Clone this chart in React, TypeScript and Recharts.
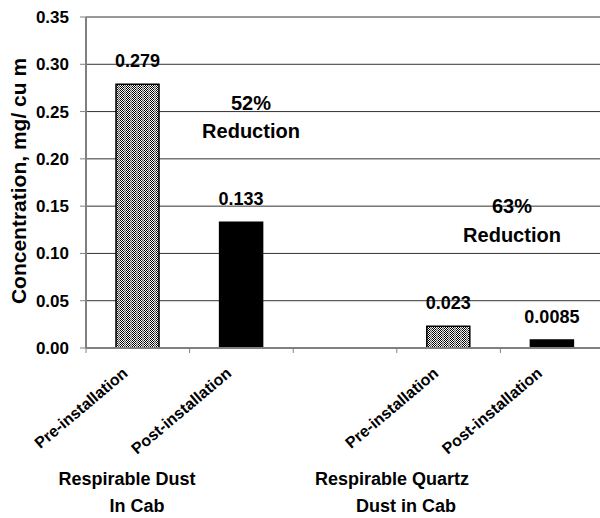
import { BarChart, Bar, XAxis, YAxis, CartesianGrid, Cell, LabelList } from "recharts";

const categories = ["pre-dust", "post-dust", "gap", "pre-quartz", "post-quartz"];
const tickLabels = ["Pre-installation", "Post-installation", "", "Pre-installation", "Post-installation"];
const concentration = [0.279, 0.133, null, 0.023, 0.0085];
const barKinds = ["pre", "post", null, "pre", "post"];
const yTicks = [0, 0.05, 0.1, 0.15, 0.2, 0.25, 0.3, 0.35];

const data = categories.map((key, i) => ({
  key,
  label: tickLabels[i],
  value: concentration[i],
  kind: barKinds[i],
}));

const FONT = "'Liberation Sans', Arial, sans-serif";
const AXIS_GRAY = "#808080";

const RotatedTick = (props: any) => {
  const { x, y, payload, index } = props;
  const half = payload && payload.offset ? payload.offset : 51.8;
  const label = tickLabels[index] || "";
  const lx = x - 9;
  const ly = y + 27;
  return (
    <g>
      <line x1={x - half} y1={y} x2={x - half} y2={y + 5} stroke={AXIS_GRAY} strokeWidth={1} />
      {label && (
        <text
          x={lx}
          y={ly}
          transform={`rotate(-40, ${lx}, ${ly})`}
          textAnchor="end"
          fontSize={16}
          fontWeight="bold"
          fill="#000"
          fontFamily={FONT}
        >
          {label}
        </text>
      )}
    </g>
  );
};

const textStyle = { fontFamily: FONT, fontWeight: "bold" as const, fill: "#000" };

// 1px checker with lighter stripe every few columns, like the original fill
const checker: { x: number; y: number; fill: string }[] = [];
for (let c = 0; c < 6; c++) {
  for (let r = 0; r < 2; r++) {
    const on = (c + r) % 2 === 0;
    const stripe = c >= 4;
    checker.push({ x: c, y: r, fill: on ? (stripe ? "#555" : "#000") : stripe ? "#ddd" : "#fff" });
  }
}

export default function App() {
  return (
    <div style={{ position: "absolute", left: 0, top: 0, width: 600, height: 518, overflow: "hidden", background: "#fff" }}>
      <BarChart
        width={610}
        height={518}
        data={data}
        margin={{ top: 17, right: 6, left: 0, bottom: 0 }}
        style={{ fontFamily: FONT }}
      >
        <defs>
          <pattern id="stipple" width="6" height="2" patternUnits="userSpaceOnUse">
            {checker.map((p, i) => (
              <rect key={i} x={p.x} y={p.y} width="1" height="1" fill={p.fill} />
            ))}
          </pattern>
        </defs>
        <CartesianGrid vertical={false} stroke="#333" strokeWidth={1} />
        <XAxis
          dataKey="key"
          height={170}
          interval={0}
          tickSize={0}
          tickMargin={0}
          tickLine={false}
          axisLine={{ stroke: AXIS_GRAY, strokeWidth: 2 }}
          tick={<RotatedTick />}
        />
        <YAxis
          width={86}
          domain={[0, 0.35]}
          ticks={yTicks}
          interval={0}
          tickFormatter={(v: number) => v.toFixed(2)}
          tickSize={6}
          tickMargin={11}
          tickLine={{ stroke: AXIS_GRAY }}
          axisLine={{ stroke: AXIS_GRAY, strokeWidth: 2 }}
          tick={{ fontSize: 17, fontWeight: "bold", fill: "#000", fontFamily: FONT }}
        />
        <Bar dataKey="value" barSize={43} stroke="#000" strokeWidth={1.5} isAnimationActive={false}>
          {data.map((d) => (
            <Cell key={d.key} fill={d.kind === "pre" ? "url(#stipple)" : "#000"} />
          ))}
          <LabelList
            dataKey="value"
            position="top"
            offset={17}
            formatter={(v: any) => (v == null ? "" : String(v))}
            style={{ fontSize: 18, fontWeight: "bold", fill: "#000", fontFamily: FONT }}
          />
        </Bar>
        <text
          x={18}
          y={181}
          transform="rotate(-90, 18, 181)"
          textAnchor="middle"
          dominantBaseline="central"
          fontSize={21}
          {...textStyle}
        >
          Concentration, mg/ cu m
        </text>
        <text x={251} y={110} textAnchor="middle" fontSize={20} {...textStyle}>52%</text>
        <text x={251} y={138} textAnchor="middle" fontSize={20} {...textStyle}>Reduction</text>
        <text x={512} y={213} textAnchor="middle" fontSize={20} {...textStyle}>63%</text>
        <text x={512} y={242} textAnchor="middle" fontSize={20} {...textStyle}>Reduction</text>
        <text x={127} y={485} textAnchor="middle" fontSize={18} {...textStyle}>Respirable Dust</text>
        <text x={137} y={512} textAnchor="middle" fontSize={18} {...textStyle}>In Cab</text>
        <text x={392} y={485} textAnchor="middle" fontSize={18} {...textStyle}>Respirable Quartz</text>
        <text x={406} y={512} textAnchor="middle" fontSize={18} {...textStyle}>Dust in Cab</text>
      </BarChart>
    </div>
  );
}
